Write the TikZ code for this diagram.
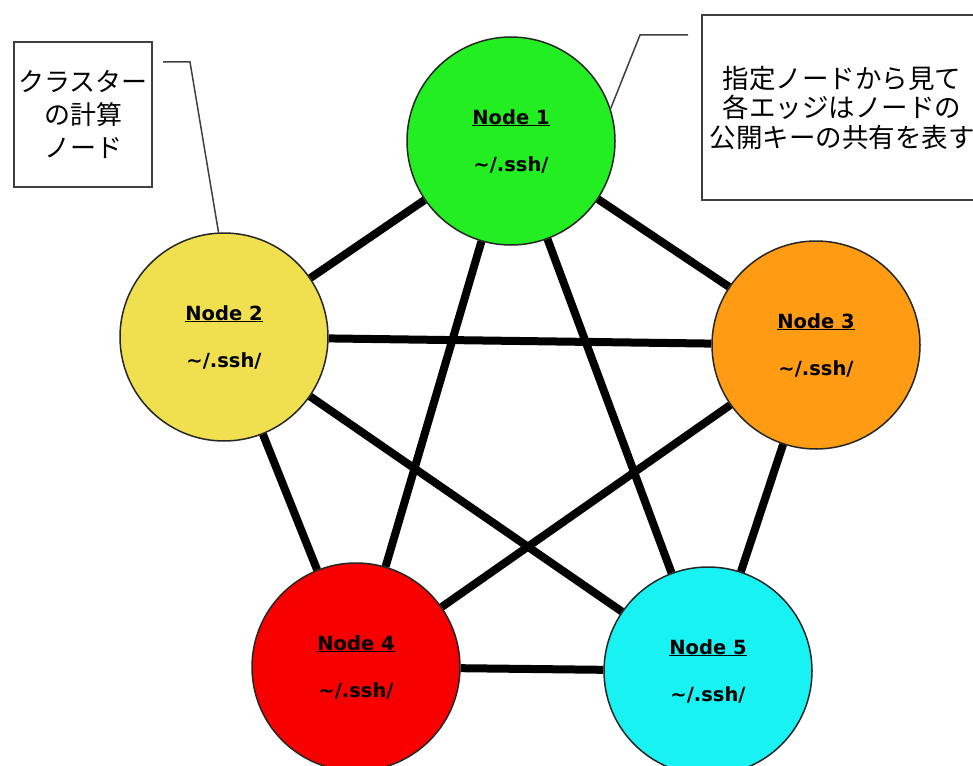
\documentclass[tikz,border=0pt]{standalone}
\usepackage{fontspec}
\newfontfamily\nodefont{DejaVu Sans}
\newfontfamily\jpfont{Noto Sans CJK JP}
\definecolor{nodegreen}{HTML}{22EE22}
\definecolor{nodeyellow}{HTML}{F0E050}
\definecolor{nodeorange}{HTML}{FF9C14}
\definecolor{nodered}{HTML}{F80000}
\definecolor{nodecyan}{HTML}{18F2F2}
\definecolor{boxgray}{HTML}{404040}
\begin{document}
\begin{tikzpicture}[x=1pt, y=-1pt,
        host/.style={circle, draw=black!85, line width=1.5pt,
          minimum size=208pt, inner sep=0pt, align=center,
          font=\nodefont\bfseries\fontsize{19.5}{47}\selectfont},
        callout/.style={draw=boxgray, line width=2pt, fill=white,
          inner sep=0pt, align=center,
          font=\jpfont\fontsize{26}{33}\selectfont},
        connection/.style={line width=8pt, black},
        leader/.style={line width=1.5pt, boxgray}
      ]
      \useasboundingbox (0,0) rectangle (973,765);

      \node[host, fill=nodegreen] (n1) at (511,141) {\underline{Node 1}\\ \textasciitilde/.ssh/};
      \node[host, fill=nodeyellow] (n2) at (224,337) {\underline{Node 2}\\ \textasciitilde/.ssh/};
      \node[host, fill=nodeorange] (n3) at (816,345) {\underline{Node 3}\\ \textasciitilde/.ssh/};
      \node[host, fill=nodered] (n4) at (356,667) {\underline{Node 4}\\ \textasciitilde/.ssh/};
      \node[host, fill=nodecyan] (n5) at (708,671) {\underline{Node 5}\\ \textasciitilde/.ssh/};

      \draw[connection] (n1) -- (n2);
      \draw[connection] (n1) -- (n3);
      \draw[connection] (n1) -- (n4);
      \draw[connection] (n1) -- (n5);
      \draw[connection] (n2) -- (n3);
      \draw[connection] (n2) -- (n4);
      \draw[connection] (n2) -- (n5);
      \draw[connection] (n3) -- (n4);
      \draw[connection] (n3) -- (n5);
      \draw[connection] (n4) -- (n5);

      \node[callout, minimum width=138pt, minimum height=145pt] (clusternote) at (83,114.5)
        {クラスター\\の計算\\ノード};
      \node[callout, minimum width=280pt, minimum height=185pt,
        font=\jpfont\fontsize{26.5}{29.5}\selectfont] (edgenote) at (842,107.5)
        {指定ノードから見て\\各エッジはノードの\\公開キーの共有を表す};

      \coordinate (clustertip) at (163,62);
      \coordinate (edgetip) at (688,35);
      \draw[leader] (clustertip) -- (190,62) -- (n2.93);
      \draw[leader] (edgetip) -- (640,35) -- (n1.18);
    \end{tikzpicture}
\end{document}
